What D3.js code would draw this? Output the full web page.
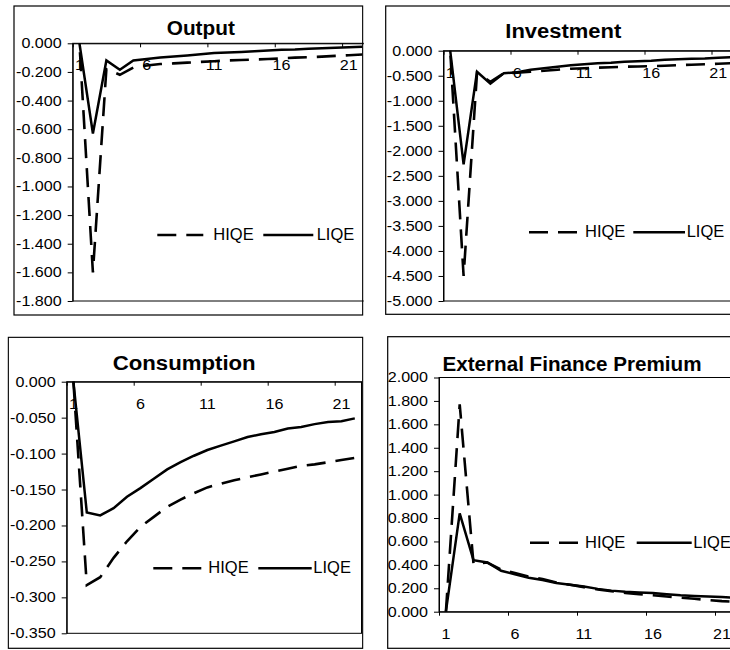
<!DOCTYPE html>
<html>
<head>
<meta charset="utf-8">
<script src="https://cdn.jsdelivr.net/npm/d3@7"></script>
<style>
  html, body { margin: 0; padding: 0; background: #fff; }
  svg { display: block; font-family: "Liberation Sans", Arial, sans-serif; }
</style>
</head>
<body>
<svg id="chart" width="730" height="650"></svg>
<script>
// Impulse responses over 22 periods, high vs low quality-of-equity regimes
const periods = d3.range(1, 23);
const periodLabels = [1, 6, 11, 16, 21];
const seriesNames = ["HIQE", "LIQE"];

const outputHIQE = [0, -1.60, -0.18, -0.22, -0.17, -0.155, -0.145, -0.14, -0.135, -0.13, -0.125, -0.12, -0.117, -0.113, -0.11, -0.106, -0.10, -0.097, -0.093, -0.088, -0.083, -0.078];
const outputLIQE = [0, -0.63, -0.12, -0.185, -0.12, -0.11, -0.10, -0.092, -0.085, -0.077, -0.068, -0.064, -0.06, -0.055, -0.05, -0.045, -0.044, -0.038, -0.034, -0.031, -0.027, -0.024];

const investmentHIQE = [0, -4.50, -0.45, -0.62, -0.45, -0.44, -0.42, -0.40, -0.38, -0.36, -0.35, -0.34, -0.33, -0.32, -0.315, -0.31, -0.30, -0.29, -0.28, -0.27, -0.26, -0.25];
const investmentLIQE = [0, -2.27, -0.42, -0.66, -0.45, -0.43, -0.38, -0.35, -0.32, -0.29, -0.27, -0.25, -0.24, -0.22, -0.21, -0.20, -0.18, -0.17, -0.16, -0.155, -0.14, -0.13];

const consumptionHIQE = [0, -0.283, -0.272, -0.245, -0.222, -0.202, -0.188, -0.174, -0.164, -0.155, -0.147, -0.142, -0.137, -0.133, -0.129, -0.125, -0.121, -0.117, -0.115, -0.112, -0.109, -0.106];
const consumptionLIQE = [0, -0.182, -0.186, -0.176, -0.160, -0.148, -0.135, -0.122, -0.112, -0.103, -0.095, -0.089, -0.083, -0.077, -0.073, -0.070, -0.065, -0.063, -0.059, -0.056, -0.055, -0.051];

const premiumHIQE = [0, 1.77, 0.41, 0.42, 0.36, 0.33, 0.30, 0.28, 0.25, 0.23, 0.21, 0.19, 0.175, 0.16, 0.15, 0.14, 0.13, 0.12, 0.11, 0.10, 0.09, 0.085];
const premiumLIQE = [0, 0.84, 0.44, 0.42, 0.35, 0.32, 0.29, 0.27, 0.245, 0.23, 0.215, 0.195, 0.18, 0.17, 0.165, 0.16, 0.15, 0.14, 0.135, 0.13, 0.125, 0.12];

const outputTicks = [0, -0.2, -0.4, -0.6, -0.8, -1.0, -1.2, -1.4, -1.6, -1.8];
const investmentTicks = [0, -0.5, -1.0, -1.5, -2.0, -2.5, -3.0, -3.5, -4.0, -4.5, -5.0];
const consumptionTicks = [0, -0.05, -0.10, -0.15, -0.20, -0.25, -0.30, -0.35];
const premiumTicks = [0, 0.2, 0.4, 0.6, 0.8, 1.0, 1.2, 1.4, 1.6, 1.8, 2.0];

const fmt = d3.formatLocale({ decimal: ".", thousands: ",", grouping: [3], currency: ["", ""], minus: "-" }).format(".3f");

// Page layout of the four panels
const panels = [
  { title: "Output", hiqe: outputHIQE, liqe: outputLIQE, ticks: outputTicks, dashOffset: 20,
    box: [14, 6, 362.7, 315], plot: { left: 72.7, top: 43.3, bottom: 301, catW: 13.47 },
    titleAt: [200.8, 35], titleW: 68, legend: { y: 235, dash: [157.3, 203.3], hiqe: 213.3, solid: [263.3, 313.3], liqe: 316.7 } },
  { title: "Investment", hiqe: investmentHIQE, liqe: investmentLIQE, ticks: investmentTicks, dashOffset: 24,
    box: [385.7, 6, 745, 314.3], plot: { left: 443.5, top: 50.7, bottom: 301, catW: 13.4 },
    titleAt: [563.3, 38.3], titleW: 116, legend: { y: 232.3, dash: [529, 578.3], hiqe: 585, solid: [633.3, 685], liqe: 686.7 } },
  { title: "Consumption", hiqe: consumptionHIQE, liqe: consumptionLIQE, ticks: consumptionTicks, dashOffset: 0,
    box: [8.3, 337.3, 362.7, 648.3], plot: { left: 66.7, top: 381.7, bottom: 633.3, catW: 13.4 },
    titleAt: [184.2, 370], titleW: 143, legend: { y: 568.3, dash: [153.3, 203.3], hiqe: 208.3, solid: [258.3, 311.7], liqe: 313.3 } },
  { title: "External Finance Premium", hiqe: premiumHIQE, liqe: premiumLIQE, ticks: premiumTicks, dashOffset: 0,
    box: [387.7, 336.7, 745, 648.3], plot: { left: 439, top: 377.5, bottom: 611.7, catW: 13.8 },
    titleAt: [572, 370.7], titleW: 259, legend: { y: 542.7, dash: [530, 580], hiqe: 585, solid: [636.7, 691.7], liqe: 693.3 } }
];

const svg = d3.select("#chart");
const defs = svg.append("defs");
const DASH = "19,10";
const LABEL_SIZE = 14;
const LABEL_STRETCH = 1.15;

// widen a text element horizontally by a factor, keeping its anchor
function stretch(sel, factor) {
  sel.each(function () {
    const len = this.getComputedTextLength();
    d3.select(this).attr("textLength", len * factor).attr("lengthAdjust", "spacingAndGlyphs");
  });
}

panels.forEach((p, k) => {
  const [bx0, by0, bx1, by1] = p.box;
  defs.append("clipPath").attr("id", "clip" + k)
    .append("rect").attr("x", bx0 - 1).attr("y", by0 - 1)
    .attr("width", bx1 - bx0 + 2).attr("height", by1 - by0 + 2);

  const g = svg.append("g").attr("clip-path", `url(#clip${k})`);

  g.append("rect").attr("x", bx0).attr("y", by0)
    .attr("width", bx1 - bx0).attr("height", by1 - by0)
    .attr("fill", "#fff").attr("stroke", "#000").attr("stroke-width", 1.2);

  const x = d3.scaleLinear().domain([0, periods.length])
    .range([p.plot.left, p.plot.left + periods.length * p.plot.catW]);
  const y = d3.scaleLinear().domain(d3.extent(p.ticks))
    .range([p.plot.bottom, p.plot.top]);

  // plot area frame
  g.append("rect").attr("x", x.range()[0]).attr("y", p.plot.top)
    .attr("width", x.range()[1] - x.range()[0]).attr("height", p.plot.bottom - p.plot.top)
    .attr("fill", "none").attr("stroke", "#000").attr("stroke-width", 1);

  // value axis
  const yAxis = g.append("g").attr("transform", `translate(${p.plot.left},0)`)
    .call(d3.axisLeft(y).tickValues(p.ticks).tickSize(5).tickSizeOuter(0).tickPadding(6).tickFormat(fmt));
  yAxis.selectAll("text").attr("font-size", LABEL_SIZE).attr("fill", "#000")
    .attr("font-family", '"Liberation Sans", Arial, sans-serif')
    .call(stretch, LABEL_STRETCH);
  yAxis.selectAll("line, path").attr("stroke", "#000");

  // category axis crossing at zero, ticks between categories
  const axisY = y(0);
  const xAxis = g.append("g").attr("transform", `translate(0,${axisY})`)
    .call(d3.axisBottom(x).tickValues([0, 5, 10, 15, 20]).tickSize(4).tickSizeOuter(0).tickFormat(""));
  xAxis.selectAll("line, path").attr("stroke", "#000");

  g.selectAll(".plabel").data(periodLabels).join("text")
    .attr("class", "plabel")
    .attr("x", d => x(d - 0.5)).attr("y", axisY + 27)
    .attr("text-anchor", "middle").attr("font-size", LABEL_SIZE).attr("fill", "#000")
    .text(d => d)
    .call(stretch, LABEL_STRETCH);

  const line = d3.line().x((d, i) => x(i + 0.5)).y(d => y(d));
  g.append("path").datum(p.liqe).attr("d", line)
    .attr("fill", "none").attr("stroke", "#000").attr("stroke-width", 2.5)
    .attr("stroke-linejoin", "miter");
  g.append("path").datum(p.hiqe).attr("d", line)
    .attr("fill", "none").attr("stroke", "#000").attr("stroke-width", 2.6)
    .attr("stroke-dasharray", DASH).attr("stroke-dashoffset", p.dashOffset);

  // title
  g.append("text").attr("x", p.titleAt[0]).attr("y", p.titleAt[1])
    .attr("text-anchor", "middle").attr("font-size", 20).attr("font-weight", "bold")
    .attr("fill", "#000").attr("textLength", p.titleW).attr("lengthAdjust", "spacingAndGlyphs")
    .text(p.title);

  // legend
  const L = p.legend;
  g.append("line").attr("x1", L.dash[0]).attr("x2", L.dash[1]).attr("y1", L.y).attr("y2", L.y)
    .attr("stroke", "#000").attr("stroke-width", 2.6).attr("stroke-dasharray", DASH);
  g.append("text").attr("x", L.hiqe).attr("y", L.y + 5).attr("font-size", 16.5).attr("fill", "#000").text(seriesNames[0]);
  g.append("line").attr("x1", L.solid[0]).attr("x2", L.solid[1]).attr("y1", L.y).attr("y2", L.y)
    .attr("stroke", "#000").attr("stroke-width", 2.5);
  g.append("text").attr("x", L.liqe).attr("y", L.y + 5).attr("font-size", 16.5).attr("fill", "#000").text(seriesNames[1]);
});
</script>
</body>
</html>
